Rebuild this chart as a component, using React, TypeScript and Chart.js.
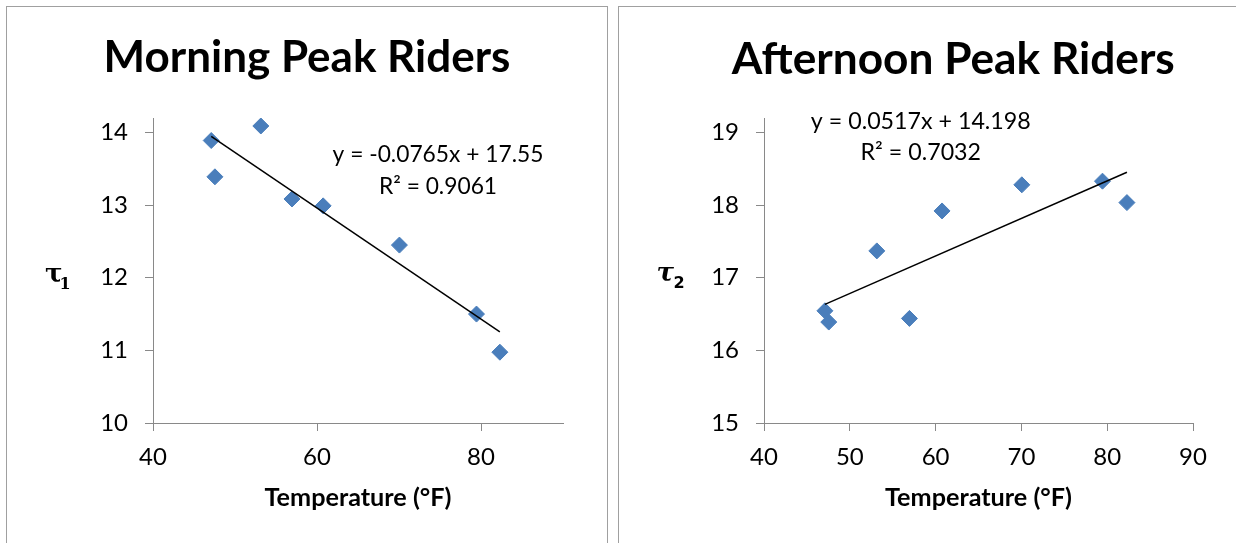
import React, { useEffect, useRef } from 'react';
import { Chart, registerables } from 'chart.js';

Chart.register(...registerables);

// ---- data ----
const temperatures = [47.1, 47.55, 53.15, 56.95, 60.75, 70.05, 79.45, 82.3];
const morningTau = [13.89, 13.39, 14.09, 13.085, 12.99, 12.45, 11.5, 10.975];
const afternoonTau = [16.545, 16.39, 17.37, 16.44, 17.92, 18.28, 18.33, 18.035];

const morningFit = [-0.0765, 17.55]; // slope, intercept
const afternoonFit = [0.0517, 14.198];

const morningEquation = ['y = -0.0765x + 17.55', 'R\u00B2 = 0.9061'];
const afternoonEquation = ['y = 0.0517x + 14.198', 'R\u00B2 = 0.7032'];

const chartTitles = ['Morning Peak Riders', 'Afternoon Peak Riders'];
const xAxisTitle = 'Temperature (\u00B0F)';
const yAxisSymbols = ['\u03C4', '1', '\u03C4', '2'];

const morningXRange = [40, 90, 20]; // min, max, step
const afternoonXRange = [40, 90, 10];
const morningYRange = [10, 14.2, 1];
const afternoonYRange = [15, 19.2, 1];

// ---- styling ----
const FONT = 'Lato';
const AXIS_GRAY = '#898989';
const MARKER_BLUE = '#4A7EBB';

type TextCfg = {
  title: string;
  titleCx: number;
  titleBase: number;
  titleWidth: number;
  eq: string[];
  eqCx: number;
  eqBase: number[];
  eqWidth: number;
  tau: string;
  sub: string;
  tauX: number;
  tauBase: number;
  subX: number;
  subBase: number;
  tauItalic: boolean;
  xTitleBase: number;
  xTitleWidth: number;
};

function fitSize(ctx: CanvasRenderingContext2D, text: string, weight: string, family: string, target: number) {
  ctx.font = `${weight} 100px ${family}`;
  const w = ctx.measureText(text).width;
  return (100 * target) / w;
}

const panelTextPlugin = {
  id: 'panelText',
  afterDraw(chart: any, _args: any, opts: TextCfg) {
    if (!opts || !opts.title) return;
    const ctx: CanvasRenderingContext2D = chart.ctx;
    ctx.save();
    ctx.fillStyle = '#000';
    ctx.textBaseline = 'alphabetic';

    // title
    const ts = fitSize(ctx, opts.title, 'bold', FONT, opts.titleWidth);
    ctx.font = `bold ${ts}px ${FONT}`;
    ctx.textAlign = 'center';
    ctx.fillText(opts.title, opts.titleCx, opts.titleBase);

    // regression equation
    const es = fitSize(ctx, opts.eq[0], 'normal', FONT, opts.eqWidth);
    ctx.font = `normal ${es}px ${FONT}`;
    opts.eq.forEach((line, i) => ctx.fillText(line, opts.eqCx, opts.eqBase[i]));

    // x axis title
    const area = chart.chartArea;
    const xs = fitSize(ctx, xAxisTitle, 'bold', FONT, opts.xTitleWidth);
    ctx.font = `bold ${xs}px ${FONT}`;
    ctx.fillText(xAxisTitle, (area.left + area.right) / 2, opts.xTitleBase);

    // y axis symbol
    ctx.textAlign = 'left';
    ctx.font = `${opts.tauItalic ? 'italic ' : ''}bold 26px "DejaVu Serif"`;
    ctx.fillText(opts.tau, opts.tauX, opts.tauBase);
    ctx.font = opts.tauItalic ? 'bold 16px "DejaVu Sans"' : 'bold 16px "DejaVu Serif"';
    ctx.fillText(opts.sub, opts.subX, opts.subBase);
    ctx.restore();
  },
};

type PanelProps = {
  left: number;
  width: number;
  ys: number[];
  fit: number[];
  xRange: number[];
  yRange: number[];
  padRight: number;
  yWidth: number;
  text: TextCfg;
};

const keepStepTicks = (step: number) => (scale: any) => {
  scale.ticks = scale.ticks.filter((t: any) => Math.abs(t.value / step - Math.round(t.value / step)) < 1e-6);
};

function Panel({ left, width, ys, fit, xRange, yRange, padRight, yWidth, text }: PanelProps) {
  const ref = useRef<HTMLCanvasElement>(null);

  useEffect(() => {
    const points = temperatures.map((x, i) => ({ x, y: ys[i] }));
    const xMin = Math.min(...temperatures);
    const xMax = Math.max(...temperatures);
    const trend = [xMin, xMax].map((x) => ({ x, y: fit[0] * x + fit[1] }));

    const tickFont = { family: FONT, size: 24 };
    const chart = new Chart(ref.current as HTMLCanvasElement, {
      type: 'scatter',
      data: {
        datasets: [
          {
            data: trend,
            showLine: true,
            borderColor: '#000',
            borderWidth: 1.5,
            pointRadius: 0,
            fill: false,
            order: 0,
          } as any,
          {
            data: points,
            pointStyle: 'rectRot',
            pointRadius: 8,
            pointHoverRadius: 8,
            backgroundColor: MARKER_BLUE,
            borderColor: MARKER_BLUE,
            borderWidth: 1,
            order: 1,
          } as any,
        ],
      },
      options: {
        responsive: false,
        animation: false,
        devicePixelRatio: 1,
        events: [],
        layout: { padding: { top: 118, right: padRight, bottom: 0, left: 0 } },
        plugins: {
          legend: { display: false },
          tooltip: { enabled: false },
          title: { display: false },
          panelText: text,
        } as any,
        scales: {
          x: {
            type: 'linear',
            position: 'bottom',
            min: xRange[0],
            max: xRange[1],
            bounds: 'data',
            afterBuildTicks: keepStepTicks(xRange[2]),
            ticks: {
              stepSize: xRange[2],
              includeBounds: false,
              padding: 12,
              font: tickFont,
              color: '#000',
              maxRotation: 0,
              autoSkip: false,
            },
            grid: { drawOnChartArea: false, drawTicks: true, tickLength: 8, color: AXIS_GRAY, lineWidth: 1 },
            border: { color: AXIS_GRAY, width: 1 },
            afterFit: (s: any) => {
              s.height = 120;
            },
          },
          y: {
            type: 'linear',
            position: 'left',
            min: yRange[0],
            max: yRange[1],
            bounds: 'data',
            afterBuildTicks: keepStepTicks(yRange[2]),
            ticks: {
              stepSize: yRange[2],
              includeBounds: false,
              padding: 17,
              font: tickFont,
              color: '#000',
              autoSkip: false,
            },
            grid: { drawOnChartArea: false, drawTicks: true, tickLength: 8, color: AXIS_GRAY, lineWidth: 1 },
            border: { color: AXIS_GRAY, width: 1 },
            afterFit: (s: any) => {
              s.width = yWidth;
            },
          },
        } as any,
      },
      plugins: [panelTextPlugin],
    });
    return () => chart.destroy();
  }, []);

  return (
    <canvas
      ref={ref}
      width={width}
      height={543}
      style={{ position: 'absolute', left, top: 0, width, height: 543 }}
    />
  );
}

export default function App() {
  const morningText: TextCfg = {
    title: chartTitles[0],
    titleCx: 307,
    titleBase: 72,
    titleWidth: 407,
    eq: morningEquation,
    eqCx: 438,
    eqBase: [162, 193.5],
    eqWidth: 211,
    tau: yAxisSymbols[0],
    sub: yAxisSymbols[1],
    tauX: 45,
    tauBase: 281.5,
    subX: 59.5,
    subBase: 288.5,
    tauItalic: false,
    xTitleBase: 506,
    xTitleWidth: 187,
  };
  const afternoonText: TextCfg = {
    title: chartTitles[1],
    titleCx: 341.3,
    titleBase: 73.5,
    titleWidth: 443,
    eq: afternoonEquation,
    eqCx: 308.8,
    eqBase: [128.5, 160],
    eqWidth: 220,
    tau: yAxisSymbols[2],
    sub: yAxisSymbols[3],
    tauX: 44.5,
    tauBase: 281,
    subX: 61.5,
    subBase: 288,
    tauItalic: true,
    xTitleBase: 506,
    xTitleWidth: 187,
  };

  return (
    <div
      style={{
        position: 'fixed',
        left: 0,
        top: 0,
        width: 1236,
        height: 543,
        overflow: 'hidden',
        background: '#fff',
      }}
    >
      <div
        style={{
          position: 'absolute',
          left: 6,
          top: 6,
          width: 602,
          height: 620,
          border: '1px solid #a0a0a0',
          boxSizing: 'border-box',
        }}
      />
      <div
        style={{
          position: 'absolute',
          left: 618,
          top: 6,
          width: 700,
          height: 620,
          border: '1px solid #a0a0a0',
          boxSizing: 'border-box',
        }}
      />
      <Panel
        left={0}
        width={612}
        ys={morningTau}
        fit={morningFit}
        xRange={morningXRange}
        yRange={morningYRange}
        padRight={49}
        yWidth={153}
        text={morningText}
      />
      <Panel
        left={612}
        width={624}
        ys={afternoonTau}
        fit={afternoonFit}
        xRange={afternoonXRange}
        yRange={afternoonYRange}
        padRight={43}
        yWidth={152}
        text={afternoonText}
      />
    </div>
  );
}
